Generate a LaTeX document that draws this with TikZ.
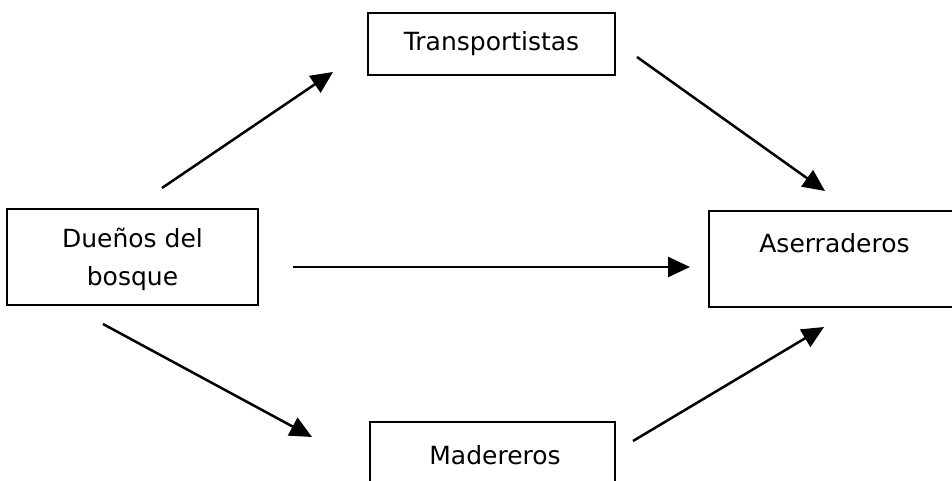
\documentclass[tikz,border=0pt]{standalone}
\usepackage{fontspec}
\setmainfont{DejaVu Sans}
\usetikzlibrary{arrows.meta}
\tikzset{
  boxnode/.style={draw=black, line width=2pt, rectangle, inner sep=0pt, anchor=center},
  lbl/.style={font=\fontsize{25}{38}\selectfont, align=center, inner sep=0pt, anchor=center},
  conn/.style={line width=2.5pt, -{Triangle[length=22pt,width=20pt]}}
}
\begin{document}
\begin{tikzpicture}[x=1pt,y=-1pt]
\useasboundingbox (0,0) rectangle (952,481);
% boxes
\node[boxnode, minimum width=247pt, minimum height=62pt] (trans) at (491.5,44) {};
\node[boxnode, minimum width=251pt, minimum height=96pt] (duenos) at (132.5,257) {};
\node[boxnode, minimum width=251pt, minimum height=96pt] (aserr) at (834.5,259) {};
\node[boxnode, minimum width=245pt, minimum height=60pt] (mader) at (492.5,452) {};
% labels
\node[lbl] (transT) at (491.5,44) {Transportistas};
\node[lbl] (duenosT) at (132.5,259) {Dueños del\\bosque};
\node[lbl] (aserrT) at (834.5,243) {Aserraderos};
\node[lbl] (maderT) at (495,455) {Madereros};
% arrow end points
\coordinate (a1s) at (162,188);
\coordinate (a1e) at (333,72);
\coordinate (a2s) at (637,57);
\coordinate (a2e) at (825,191);
\coordinate (a3s) at (293,267);
\coordinate (a3e) at (690,267);
\coordinate (a4s) at (103,324);
\coordinate (a4e) at (312,437);
\coordinate (a5s) at (633,441);
\coordinate (a5e) at (824,327);
\draw[conn] (a1s) -- (a1e);
\draw[conn] (a2s) -- (a2e);
\draw[conn] (a3s) -- (a3e);
\draw[conn] (a4s) -- (a4e);
\draw[conn] (a5s) -- (a5e);
\end{tikzpicture}
\end{document}
